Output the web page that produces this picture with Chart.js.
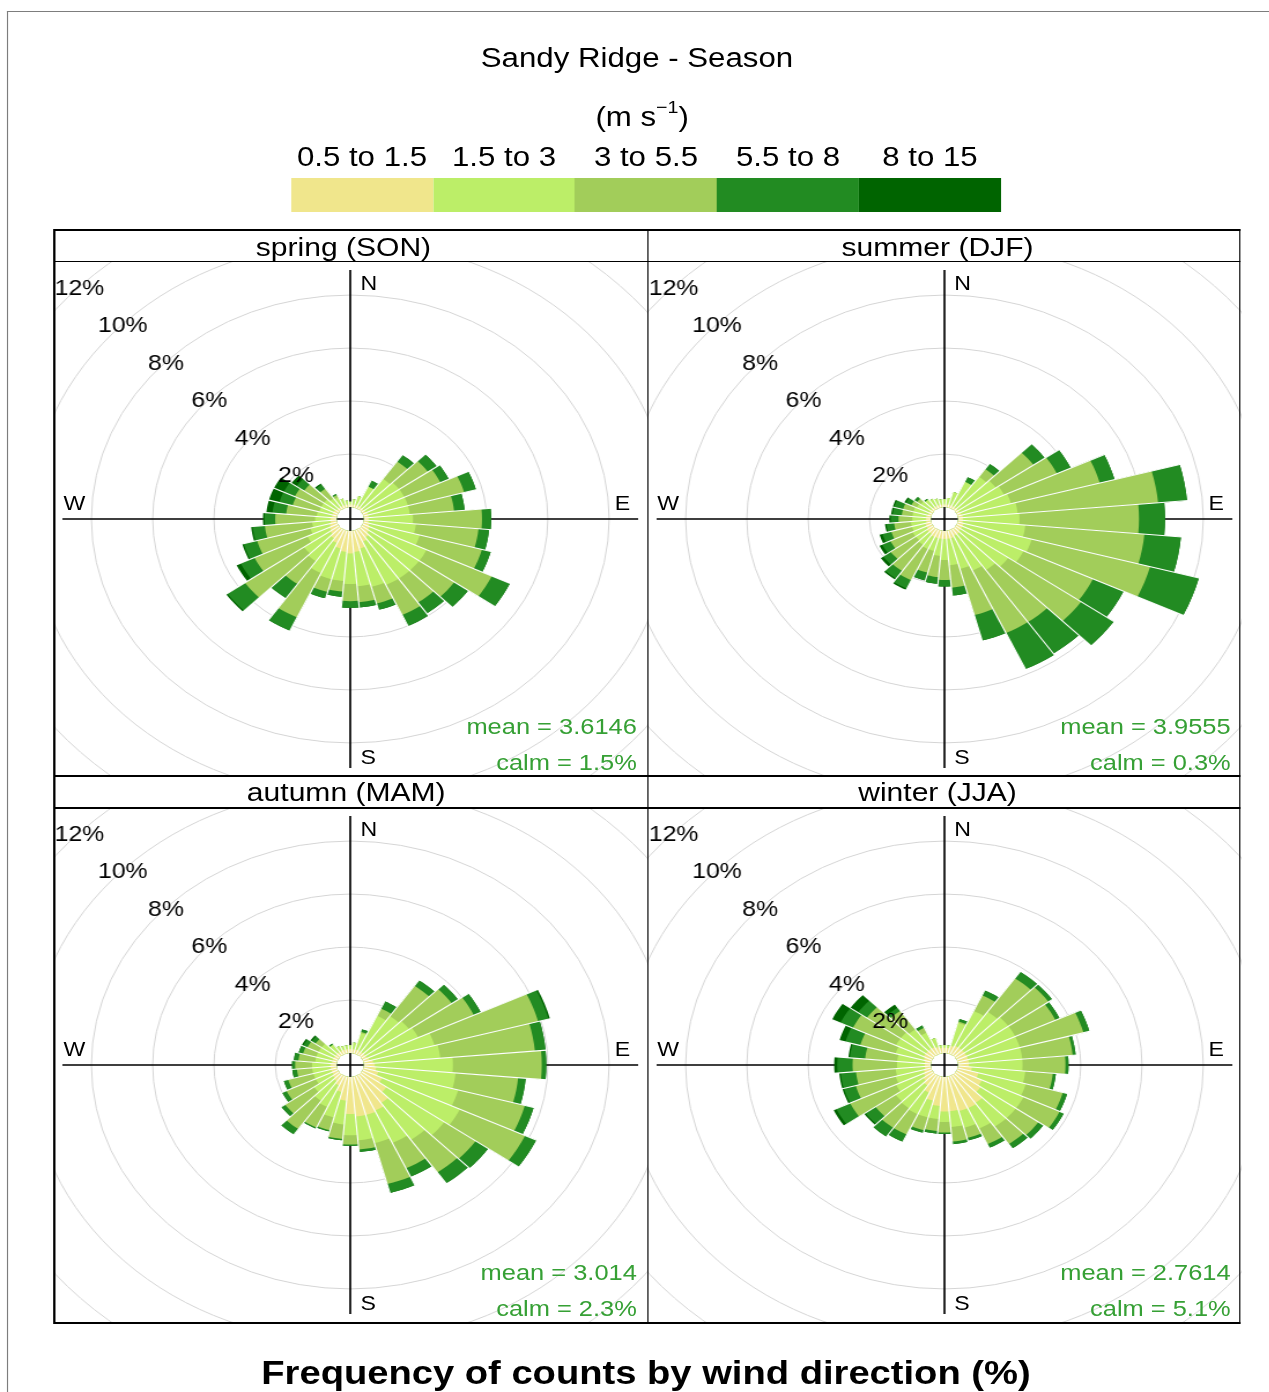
<!DOCTYPE html>
<html>
<head>
<meta charset="utf-8">
<script src="https://cdn.jsdelivr.net/npm/chart.js@4.4.1/dist/chart.umd.min.js"></script>
<style>
  html, body { margin: 0; padding: 0; background: #fff; }
  body { width: 1269px; height: 1392px; overflow: hidden; position: relative;
         font-family: "Liberation Sans", Arial, Helvetica, sans-serif; color: #000; }
  /* whole figure is laid out on a square grid, then widened */
  #fig { position: absolute; left: 0; top: 0; width: 1098px; height: 1392px;
         transform: scaleX(1.156); transform-origin: 0 0; }
  .frame { position: absolute; left: 6.3px; top: 11.3px; width: 1200px; height: 1500px;
           border-top: 1.6px solid #7d7d7d; border-left: 1.4px solid #7d7d7d; }
  .t { position: absolute; white-space: nowrap; transform: translate(-50%, -50%); line-height: 1; }
  .title { font-size: 27px; }
  .unit sup { font-size: 17px; position: relative; top: -3px; }
  .key { position: absolute; top: 178px; height: 34px; }
  .panel { position: absolute; overflow: hidden; width: 513px; height: 514px; }
  .panel canvas { position: absolute; left: -273.5px; top: -273px; }
  .lab { position: absolute; white-space: nowrap; line-height: 1; font-size: 20px; z-index: 2; }
  .stat { position: absolute; right: 9px; white-space: nowrap; line-height: 1; font-size: 22px;
          color: #36a035; transform: translateY(-50%); z-index: 2; }
  .ln { position: absolute; background: #000; z-index: 3; }
  .strip { position: absolute; font-size: 26px; white-space: nowrap; transform: translate(-50%, -50%); line-height: 1; }
  .foot { font-size: 33px; font-weight: bold; }
</style>
</head>
<body>
<div id="fig">
  <div class="frame"></div>
  <div class="t title" style="left:551px; top:58px;">Sandy Ridge - Season</div>
  <div class="t title unit" style="left:555.5px; top:116px;">(m s<sup>−1</sup>)</div>
  <div id="legend"></div>
  <div id="panels"></div>
  <div class="t foot" style="left:558.8px; top:1372px;">Frequency of counts by wind direction (%)</div>
</div>

<script>
// ---- data -------------------------------------------------------------
const directions = [10, 20, 30, 40, 50, 60, 70, 80, 90, 100, 110, 120,
                    130, 140, 150, 160, 170, 180, 190, 200, 210, 220, 230, 240,
                    250, 260, 270, 280, 290, 300, 310, 320, 330, 340, 350, 360];
const speedBins = ['0.5 to 1.5', '1.5 to 3', '3 to 5.5', '5.5 to 8', '8 to 15'];
const binColours = ['#F0E68C', '#BCEE68', '#A2CD5A', '#228B22', '#006400'];
const gridPercents = [2, 4, 6, 8, 10, 12, 14, 16, 18];
const calmHole = 0.45;   // radius of the empty centre, in % units

// frequency (%) per direction for each speed bin
const springBin1 = [.1,.1,.1,.1,.1,.1,.15,.15,.15,.15,.2,.25,.3,.4,.5,.7,.8,.85,.8,.7,.55,.45,.35,.3,.25,.2,.2,.15,.15,.15,.1,.1,.1,.1,.1,.1];
const springBin2 = [.2,.35,.8,1.3,1.4,1.4,1.35,1.35,1.45,1.55,1.7,2.05,2.0,1.9,1.8,1.5,1.3,1.15,1.1,1.2,1.25,1.05,1.05,.8,.65,.6,.5,.5,.45,.45,.5,.4,.35,.25,.15,.1];
const springBin3 = [0,0,0,.8,1.15,1.3,1.9,1.45,2.25,2.05,2.1,2.35,1.4,1.1,1.25,.65,.6,.65,.4,.5,1.85,1.05,2.35,1.9,1.8,1.55,1.3,1.0,.9,.95,.8,.45,.1,0,0,0];
const springBin4 = [0,0,.25,.3,.35,.3,.4,.35,.3,.35,.3,.65,.55,.5,.45,.25,.2,.25,.2,.25,.55,.65,.7,.5,.45,.4,.35,.45,.45,.4,.3,.2,.05,0,0,0];
const springBin5 = [0,0,0,0,0,0,0,0,0,0,0,0,0,0,0,0,0,0,0,0,0,0,.05,.15,.05,.05,.05,.2,.35,.35,.2,.05,0,0,0,0];

const summerBin1 = [.1,.1,.1,.1,.1,.1,.12,.15,.15,.15,.2,.2,.2,.25,.25,.3,.3,.3,.3,.3,.3,.25,.25,.2,.2,.15,.15,.15,.1,.1,.1,.1,.1,.1,.1,.1];
const summerBin2 = [.25,.5,1.0,1.4,1.5,1.6,1.68,1.8,1.85,2.05,2.3,2.2,1.9,1.65,1.45,1.2,1.0,.8,.65,.5,.5,.5,.45,.5,.45,.5,.45,.45,.5,.45,.4,.35,.3,.25,.2,.2];
const summerBin3 = [0,0,0,.35,1.5,1.9,3.0,4.6,3.9,3.9,4.0,2.5,2.9,2.4,2.6,1.8,.85,.75,.8,.85,1.3,1.2,1.0,.8,.7,.55,.45,.35,.35,.2,.15,0,0,0,0,0];
const summerBin4 = [0,0,.2,.25,.45,.5,.5,.95,.85,1.2,1.65,1.1,1.3,1.45,1.5,1.0,.3,.25,.25,.3,.35,.35,.3,.3,.3,.25,.25,.3,.3,.2,.1,.05,0,0,0,0];
const summerBin5 = [0,0,0,0,0,0,0,0,0,0,0,0,0,0,0,0,0,0,0,0,.05,.05,.1,.1,.1,.05,.05,.05,.05,.05,0,0,0,0,0,0];

const autumnBin1 = [.15,.15,.15,.15,.15,.15,.2,.3,.35,.4,.5,.7,1.0,1.3,1.45,1.5,1.5,1.4,.9,.6,.4,.3,.25,.2,.2,.2,.2,.15,.15,.15,.15,.15,.15,.15,.15,.15];
const autumnBin2 = [.25,.65,1.45,1.65,1.75,1.85,2.2,2.2,2.55,2.6,2.7,2.8,2.3,1.7,1.35,1.1,.9,.8,.9,1.0,.9,.9,.75,.6,.6,.6,.6,.55,.55,.55,.55,.35,.2,.15,.15,.15];
const autumnBin3 = [0,.05,.3,1.4,1.7,2.0,3.5,3.1,2.9,2.05,2.25,2.35,1.25,1.5,1.05,1.6,.35,.35,.55,.5,.85,1.3,1.15,1.05,.85,.5,.55,.55,.45,.4,.25,0,0,0,0,0];
const autumnBin4 = [0,.1,.3,.25,.25,.25,.35,.35,.15,.25,.3,.4,.5,.5,.35,.35,.1,.05,.05,.05,.05,.25,.15,.15,.15,.15,.1,.15,.15,.15,.15,.05,0,0,0,0];
const autumnBin5 = [0,0,0,0,0,0,.05,0,0,0,0,0,0,0,0,0,0,0,0,0,0,0,0,0,0,0,0,0,0,.05,.05,0,0,0,0,0];

const winterBin1 = [.2,.3,.35,.35,.35,.35,.35,.35,.35,.45,.7,.9,1.0,1.3,1.35,1.35,1.3,1.3,1.1,.95,.7,.5,.4,.3,.25,.2,.2,.2,.25,.3,.3,.3,.3,.25,.2,.2];
const winterBin2 = [.1,.9,1.45,1.65,1.75,1.75,1.75,1.75,1.75,1.75,1.6,1.5,1.4,1.1,.85,.65,.6,.4,.5,.65,.9,1.05,1.1,1.0,.95,.95,.9,.9,.95,1.0,1.0,.9,.6,.35,.1,.1];
const winterBin3 = [0,.05,.65,1.55,1.6,1.45,2.15,1.65,1.4,.9,1.25,1.3,.9,.8,.65,.4,.55,.4,.45,.5,.85,.9,.8,1.65,1.35,1.3,1.45,1.05,1.2,1.55,1.35,.85,.2,0,0,0];
const winterBin4 = [0,.1,.2,.3,.15,.15,.2,.1,.1,.1,.15,.15,.2,.2,.15,.1,.1,.05,.1,.1,.3,.4,.4,.5,.4,.5,.5,.5,.5,.45,.35,.15,.1,0,0,0];
const winterBin5 = [0,0,0,0,0,0,0,0,0,0,0,0,0,0,0,0,0,0,0,0,0,0,.05,.1,.05,.05,.1,.05,.2,.3,.3,.15,0,0,0,0];

const seasons = [
  { name: 'spring (SON)', bins: [springBin1, springBin2, springBin3, springBin4, springBin5], mean: '3.6146', calm: '1.5%' },
  { name: 'summer (DJF)', bins: [summerBin1, summerBin2, summerBin3, summerBin4, summerBin5], mean: '3.9555', calm: '0.3%' },
  { name: 'autumn (MAM)', bins: [autumnBin1, autumnBin2, autumnBin3, autumnBin4, autumnBin5], mean: '3.014',  calm: '2.3%' },
  { name: 'winter (JJA)', bins: [winterBin1, winterBin2, winterBin3, winterBin4, winterBin5], mean: '2.7614', calm: '5.1%' }
];

// ---- layout (square units, before widening) ---------------------------
const FONT = '"Liberation Sans", Arial, Helvetica, sans-serif';
const boxLeft = 46.9, boxRight = 1072.7, boxTop = 230, boxBottom = 1323;
const colLeft = [46.9, 560.6];
const stripTop = [230, 775.7];
const plotTop = [261.5, 808.3];
const stripTextX = [[297.1, 811.0], [299.5, 811.0]];
const AXIS_HALF = 249;     // half length of the compass cross, px
const CANVAS = 1060;       // square chart canvas, px

const fig = document.getElementById('fig');

// colour key
const legend = document.getElementById('legend');
const keyLeft = 251.7, keyW = 122.84;
speedBins.forEach((lab, k) => {
  const sw = document.createElement('div');
  sw.className = 'key';
  sw.style.left = (keyLeft + k * keyW) + 'px';
  sw.style.width = (keyW + 0.4) + 'px';
  sw.style.background = binColours[k];
  legend.appendChild(sw);
  const tx = document.createElement('div');
  tx.className = 't title';
  tx.style.left = (keyLeft + (k + 0.5) * keyW) + 'px';
  tx.style.top = '157px';
  tx.textContent = lab;
  legend.appendChild(tx);
});

// plugin: compass cross under the bars, calm hole, white wedge edges and % labels
const roseDecor = {
  id: 'roseDecor',
  afterDatasetUpdate(chart, args) {
    const r0 = chart.scales.r.getDistanceFromCenterForValue(0);
    args.meta.data.forEach(a => { a.innerRadius = r0; });
  },
  beforeDatasetsDraw(chart) {
    const s = chart.scales.r, ctx = chart.ctx;
    ctx.save();
    ctx.strokeStyle = '#000';
    ctx.lineWidth = 1.7;
    ctx.beginPath();
    ctx.moveTo(s.xCenter - AXIS_HALF, s.yCenter);
    ctx.lineTo(s.xCenter + AXIS_HALF, s.yCenter);
    ctx.moveTo(s.xCenter, s.yCenter - AXIS_HALF);
    ctx.lineTo(s.xCenter, s.yCenter + AXIS_HALF);
    ctx.stroke();
    ctx.restore();
  },
  afterDatasetsDraw(chart) {
    const s = chart.scales.r, ctx = chart.ctx;
    const sets = chart.data.datasets;
    const totals = sets[sets.length - 1].data;
    const n = totals.length;
    const r0 = s.getDistanceFromCenterForValue(0);
    ctx.save();
    ctx.strokeStyle = '#fff';
    ctx.lineWidth = 1.1;
    for (let i = 0; i < n; i++) {
      const reach = Math.max(totals[i], totals[(i + n - 1) % n]);
      const p0 = s.getPointPosition(i, r0);
      const p1 = s.getPointPosition(i, s.getDistanceFromCenterForValue(reach) + 1);
      ctx.beginPath();
      ctx.moveTo(p0.x, p0.y);
      ctx.lineTo(p1.x, p1.y);
      ctx.stroke();
    }
    ctx.fillStyle = '#000';
    ctx.font = '21.5px ' + FONT;
    ctx.textAlign = 'center';
    ctx.textBaseline = 'middle';
    gridPercents.forEach(v => {
      const d = s.getDistanceFromCenterForValue(v) * Math.SQRT1_2;
      ctx.fillText(v + '%', s.xCenter - d - 1, s.yCenter - d + 3);
    });
    ctx.restore();
  }
};

function stackUp(bins) {
  let run = directions.map(() => 0);
  return bins.map(b => (run = run.map((v, i) => Math.round((v + b[i]) * 1000) / 1000)));
}

const panelsEl = document.getElementById('panels');
seasons.forEach((season, p) => {
  const row = Math.floor(p / 2), col = p % 2;
  const panel = document.createElement('div');
  panel.className = 'panel';
  panel.style.left = colLeft[col] + 'px';
  panel.style.top = plotTop[row] + 'px';
  panelsEl.appendChild(panel);

  const canvas = document.createElement('canvas');
  canvas.width = CANVAS;
  canvas.height = CANVAS;
  panel.appendChild(canvas);

  // compass letters
  const cx = 256.5, cy = 257;
  [['N', cx + 8.4, cy - 236, 'left'], ['S', cx + 8.4, cy + 238, 'left'],
   ['W', cx - 239, cy - 16, 'center'], ['E', cx + 235, cy - 16, 'center']].forEach(([t, x, y, al]) => {
    const el = document.createElement('div');
    el.className = 'lab';
    el.textContent = t;
    el.style.left = x + 'px';
    el.style.top = y + 'px';
    el.style.transform = al === 'left' ? 'translateY(-50%)' : 'translate(-50%,-50%)';
    panel.appendChild(el);
  });
  const m = document.createElement('div');
  m.className = 'stat';
  m.style.top = (cy + 208) + 'px';
  m.textContent = 'mean = ' + season.mean;
  panel.appendChild(m);
  const c = document.createElement('div');
  c.className = 'stat';
  c.style.top = (cy + 244) + 'px';
  c.textContent = 'calm = ' + season.calm;
  panel.appendChild(c);

  // strip title
  const st = document.createElement('div');
  st.className = 'strip';
  st.style.left = stripTextX[row][col] + 'px';
  st.style.top = (stripTop[row] + 16.5) + 'px';
  st.textContent = season.name;
  fig.appendChild(st);

  const stacked = stackUp(season.bins);
  new Chart(canvas, {
    type: 'polarArea',
    data: {
      labels: directions.map(d => d + '°'),
      datasets: stacked.map((data, k) => ({
        label: speedBins[k],
        data: data,
        backgroundColor: binColours[k],
        borderWidth: 0
      }))
    },
    options: {
      responsive: false,
      animation: false,
      events: [],
      layout: { padding: 0 },
      plugins: { legend: { display: false }, tooltip: { enabled: false } },
      scales: {
        r: {
          min: -calmHole,
          max: 20 - calmHole,
          startAngle: 5,
          ticks: { display: false, stepSize: 2 },
          grid: { circular: true, color: '#d5d5d5', lineWidth: 1 },
          angleLines: { display: false },
          pointLabels: { display: false },
          afterBuildTicks: sc => { sc.ticks = gridPercents.map(v => ({ value: v })); }
        }
      }
    },
    plugins: [roseDecor]
  });
});

// panel frame lines
function line(x, y, w, h) {
  const el = document.createElement('div');
  el.className = 'ln';
  el.style.left = x + 'px'; el.style.top = y + 'px';
  el.style.width = w + 'px'; el.style.height = h + 'px';
  fig.appendChild(el);
}
const vW = 1.6, hW = 1.9;
line(boxLeft - vW / 2, boxTop - hW / 2, vW, boxBottom - boxTop + hW);
line(boxRight - vW / 2, boxTop - hW / 2, vW, boxBottom - boxTop + hW);
line(colLeft[1] - vW / 2, boxTop, vW, boxBottom - boxTop);
[boxTop, plotTop[0], stripTop[1], plotTop[1], boxBottom].forEach(y => line(boxLeft, y - hW / 2, boxRight - boxLeft, hW));
</script>
</body>
</html>
